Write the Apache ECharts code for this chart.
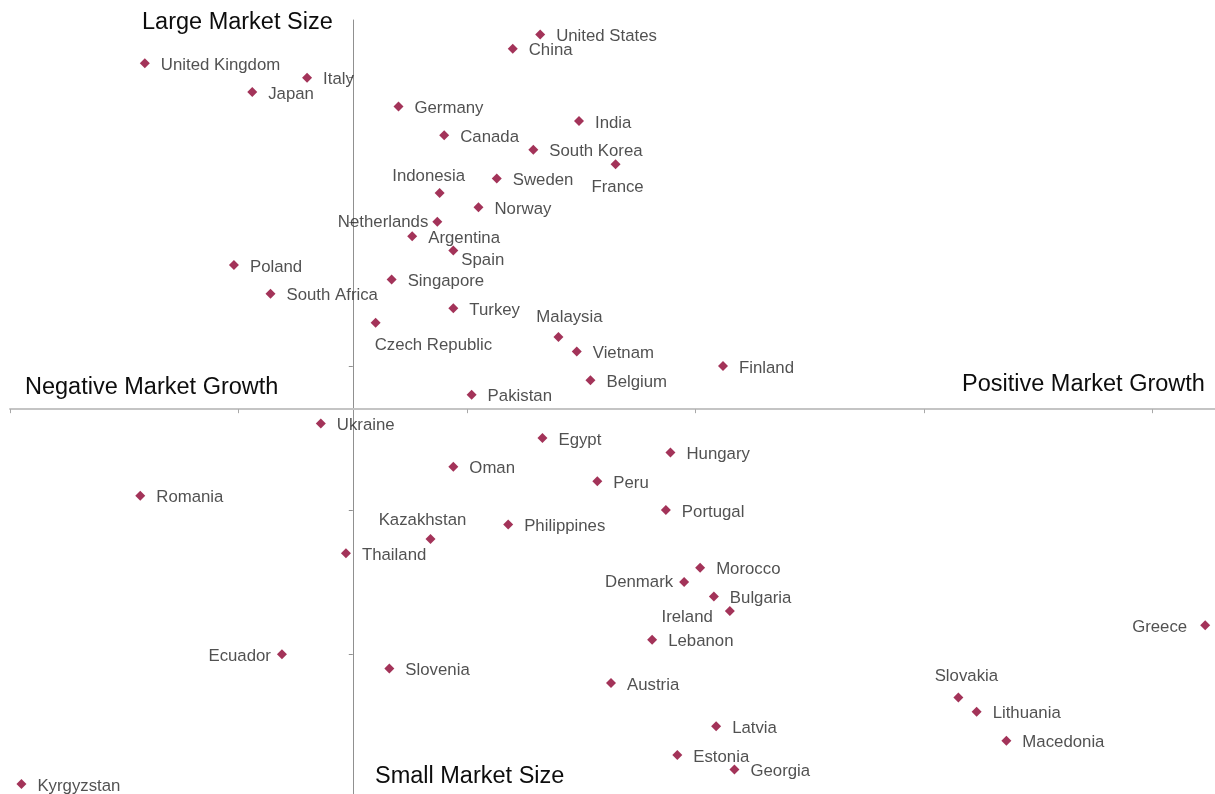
<!DOCTYPE html>
<html>
<head>
<meta charset="utf-8">
<title>Market Size vs Market Growth</title>
<script src="https://cdn.jsdelivr.net/npm/echarts@6/dist/echarts.min.js"></script>
<style>
  html, body { margin: 0; padding: 0; background: #fff; }
  #chart { width: 1215px; height: 794px; }
</style>
</head>
<body>
<div id="chart"></div>
<script>
// countries, top of the chart first
const countries = [
  'United States', 'China', 'United Kingdom', 'Italy', 'Japan', 'Germany', 'India', 'Canada',
  'South Korea', 'France', 'Sweden', 'Indonesia', 'Norway', 'Netherlands', 'Argentina', 'Spain',
  'Poland', 'Singapore', 'South Africa', 'Turkey', 'Czech Republic', 'Malaysia', 'Vietnam',
  'Finland', 'Belgium', 'Pakistan',
  'Ukraine', 'Egypt', 'Hungary', 'Oman', 'Peru', 'Romania', 'Portugal', 'Philippines',
  'Kazakhstan', 'Thailand', 'Morocco', 'Denmark', 'Bulgaria', 'Ireland', 'Greece', 'Lebanon',
  'Ecuador', 'Slovenia', 'Austria', 'Slovakia', 'Lithuania', 'Latvia', 'Macedonia', 'Estonia',
  'Georgia', 'Kyrgyzstan'
]

// market growth (horizontal)
const growth = [
  8.2, 7.0, -9.1, -2.0, -4.4, 2.0, 9.9, 4.0,
  7.9, 11.5, 6.3, 3.8, 5.5, 3.7, 2.6, 4.4,
  -5.2, 1.7, -3.6, 4.4, 1.0, 9.0, 9.8,
  16.2, 10.4, 5.2,
  -1.4, 8.3, 13.9, 4.4, 10.7, -9.3, 13.7, 6.8,
  3.4, -0.3, 15.2, 14.5, 15.8, 16.5, 37.3, 13.1,
  -3.1, 1.6, 11.3, 26.5, 27.3, 15.9, 28.6, 14.2,
  16.7, -14.5
]

// market size position (vertical)
const sizeRank = [
  26, 25, 24, 23, 22, 21, 20, 19,
  18, 17, 16, 15, 14, 13, 12, 11,
  10, 9, 8, 7, 6, 5, 4,
  3, 2, 1,
  -1, -2, -3, -4, -5, -6, -7, -8,
  -9, -10, -11, -12, -13, -14, -15, -16,
  -17, -18, -19, -20, -21, -22, -23, -24,
  -25, -26
]

const xTicks = [-15, -5, 5, 15, 25, 35]
const yTicks = [23, 13, 3, -7, -17]

// labels that do not sit to the right of their marker: [align, dx, dy]
const labelTweaks = {
  'France': ['center', 2, 23],
  'Indonesia': ['center', -11, -17],
  'Netherlands': ['right', -9, 1],
  'Spain': ['left', 8, 10],
  'Czech Republic': ['left', -1, 23],
  'Malaysia': ['center', 11, -20],
  'Kazakhstan': ['center', -8, -19],
  'Denmark': ['right', -11, 0],
  'Ireland': ['right', -17, 6],
  'Greece': ['right', -18, 2],
  'Slovakia': ['center', 8, -21],
  'Ecuador': ['right', -11, 2]
}

const FONT = '"Liberation Sans", Arial, sans-serif'
const SYMBOL = 10

const points = countries.map((name, i) => {
  const t = labelTweaks[name] || ['left', 16, 2]
  return {
    name: name,
    value: [growth[i], sizeRank[i]],
    label: {
      align: t[0],
      // position is measured from the symbol box corner
      position: [SYMBOL / 2 + t[1], SYMBOL / 2 + t[2]]
    }
  }
})

const chart = echarts.init(document.getElementById('chart'))

chart.setOption({
  animation: false,
  backgroundColor: '#fff',
  grid: {
    left: 10,
    right: 0,
    top: 20,
    bottom: 0
  },
  xAxis: {
    type: 'value',
    min: -15,
    max: 37.73,
    axisLine: {
      onZero: true,
      lineStyle: { color: '#c4c4c4', width: 2 }
    },
    axisTick: {
      show: true,
      customValues: xTicks,
      length: 4,
      lineStyle: { color: '#a8a8a8', width: 1 }
    },
    axisLabel: { show: false },
    splitLine: { show: false }
  },
  yAxis: {
    type: 'value',
    min: -26.7,
    max: 27,
    axisLine: {
      onZero: true,
      lineStyle: { color: '#909090', width: 1 }
    },
    axisTick: {
      show: true,
      customValues: yTicks,
      length: 4,
      lineStyle: { color: '#909090', width: 1 }
    },
    axisLabel: { show: false },
    splitLine: { show: false }
  },
  graphic: [
    { type: 'text', left: 142, top: 11, style: { text: 'Large Market Size', font: '23.5px ' + FONT, fill: '#0d0d0d' } },
    { type: 'text', left: 25, top: 376, style: { text: 'Negative Market Growth', font: '23.5px ' + FONT, fill: '#0d0d0d' } },
    { type: 'text', left: 962, top: 373, style: { text: 'Positive Market Growth', font: '23.5px ' + FONT, fill: '#0d0d0d' } },
    { type: 'text', left: 375, top: 765, style: { text: 'Small Market Size', font: '23.5px ' + FONT, fill: '#0d0d0d' } }
  ],
  series: [{
    type: 'scatter',
    symbol: 'diamond',
    symbolSize: SYMBOL,
    itemStyle: { color: '#8c002f' },
    label: {
      show: true,
      verticalAlign: 'middle',
      formatter: '{b}',
      color: '#262626',
      fontFamily: FONT,
      fontSize: 16.8
    },
    labelLayout: { hideOverlap: false },
    data: points
  }]
})
</script>
</body>
</html>
